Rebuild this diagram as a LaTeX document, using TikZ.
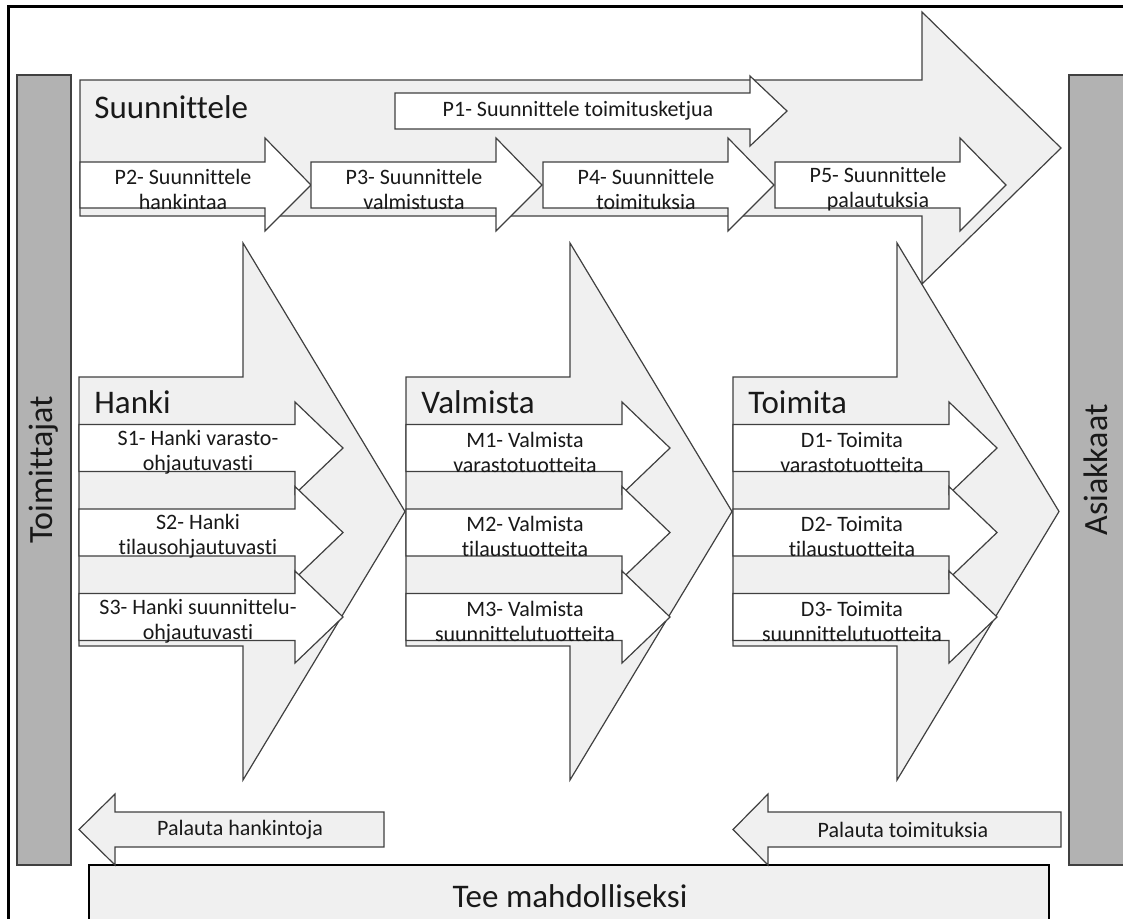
\documentclass[tikz,border=0pt]{standalone}
\usepackage{fontspec}
\setmainfont{Carlito}[Ligatures={NoCommon},Contextuals={NoAlternate}]

\begin{document}
\begin{tikzpicture}[x=0.5pt,y=-0.5pt,
  blk/.style={draw=black!75,line width=0.6pt,fill=black!6},
  sub/.style={draw=black!75,line width=0.6pt,fill=white},
  bar/.style={draw=black!75,line width=0.6pt,fill=black!30},
  ttl/.style={font=\fontsize{16.5}{19}\selectfont,text=black!90,anchor=base west,inner sep=0pt},
  lbl/.style={font=\fontsize{11}{12.5}\selectfont,text=black!90,align=center,inner sep=0pt}]
\useasboundingbox (0,0) rectangle (1123,918);
% frame
\draw[line width=1.1pt] (8.5,935) -- (8.5,6.5) -- (1135,6.5);
% supplier and customer bars
\draw[bar] (17,75) rectangle (71,865);
\draw[bar] (1069,75) rectangle (1140,865);
\node[rotate=90,font=\fontsize{17}{20}\selectfont,text=black!90] (toimittajat) at (44,470) {Toimittajat};
\node[rotate=90,font=\fontsize{17}{20}\selectfont,text=black!90] (asiakkaat) at (1096,470) {Asiakkaat};
% plan
\draw[blk] (80,80) -- (922,80) -- (922,12) -- (1061,148) -- (922,284) -- (922,216) -- (80,216) -- cycle;
\node[ttl] (suunnittele) at (94,118) {Suunnittele};
\draw[sub] (395,93) -- (750,93) -- (750,76) -- (787,111) -- (750,146) -- (750,129) -- (395,129) -- cycle;
\node[lbl] (p1) at (578,111) {P1- Suunnittele toimitusketjua};
\foreach \x/\n/\t in {80/p2/hankintaa,311/p3/valmistusta,543/p4/toimituksia,775/p5/palautuksia}{
  \draw[sub] (\x,162) -- ++(185,0) -- ++(0,-24) -- ++(46,47) -- ++(-46,46) -- ++(0,-23) -- ++(-185,0) -- cycle;
  \node[lbl] (\n) at (\x+103,189) {\MakeUppercase\n- Suunnittele\\\t};
}
% source, make, deliver
\foreach \x/\n/\t in {79/hanki/Hanki,406/valmista/Valmista,733/toimita/Toimita}{
  \draw[blk] (\x,377) -- ++(164,0) -- ++(0,-134) -- ++(162,268.5) -- ++(-162,268.5) -- ++(0,-134) -- ++(-164,0) -- cycle;
  \node[ttl] (\n) at (\x+15,413) {\t};
}
\foreach \x/\c/\n/\t in {
  79/448/s1/{S1- Hanki varasto-\\ohjautuvasti},
  79/532.5/s2/{S2- Hanki\\tilausohjautuvasti},
  79/617/s3/{S3- Hanki suunnittelu-\\ohjautuvasti},
  406/448/m1/{M1- Valmista\\varastotuotteita},
  406/532.5/m2/{M2- Valmista\\tilaustuotteita},
  406/617/m3/{M3- Valmista\\suunnittelutuotteita},
  733/448/d1/{D1- Toimita\\varastotuotteita},
  733/532.5/d2/{D2- Toimita\\tilaustuotteita},
  733/617/d3/{D3- Toimita\\suunnittelutuotteita}}{
  \draw[sub] (\x,\c-23.5) -- ++(216,0) -- ++(0,-22.5) -- ++(48,46) -- ++(-48,46) -- ++(0,-22.5) -- ++(-216,0) -- cycle;
  \node[lbl] (\n) at (\x+119,\c+4) {\t};
}
% enable
\draw[fill=black!6,line width=0.6pt] (89,865) rectangle (1049,940);
\node[font=\fontsize{16.5}{19}\selectfont,text=black!90,anchor=base] (tee) at (570,907) {Tee mahdolliseksi};
% returns
\draw[blk] (384,812) -- (115,812) -- (115,794) -- (79,829.5) -- (115,865) -- (115,847) -- (384,847) -- cycle;
\node[lbl] (palhank) at (240,830) {Palauta hankintoja};
\draw[blk] (1061,812) -- (768,812) -- (768,794) -- (733,829.5) -- (768,865) -- (768,847) -- (1061,847) -- cycle;
\node[lbl] (paltoim) at (903,830) {Palauta toimituksia};
\end{tikzpicture}
\end{document}
